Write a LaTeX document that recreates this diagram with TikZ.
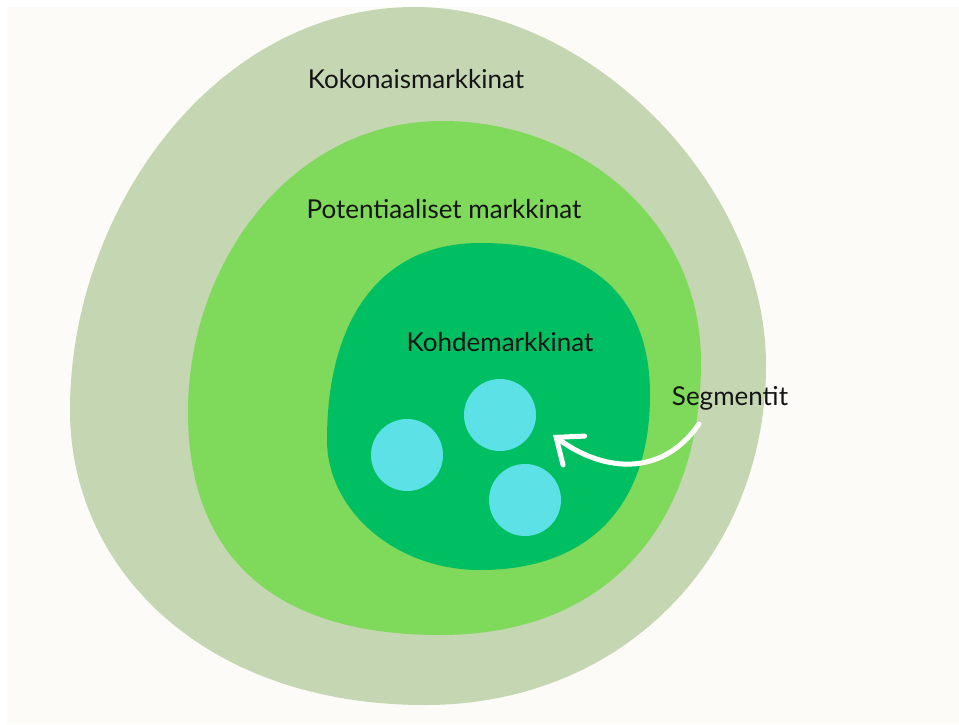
\documentclass[tikz,border=0pt]{standalone}
\usepackage{fontspec}
\setmainfont{Lato}
\usetikzlibrary{arrows.meta}
\definecolor{paper}{HTML}{FCFBF8}
\definecolor{sage}{HTML}{C5D6B3}
\definecolor{leaf}{HTML}{7FD95A}
\definecolor{deepgreen}{HTML}{00BF63}
\definecolor{aqua}{HTML}{5CE1E6}
\tikzstyle{market} = [draw=none]
\tikzstyle{marketname} = [font=\fontsize{26}{30}\selectfont, text=black!92, inner sep=0pt, anchor=base]
\tikzstyle{segment} = [circle, fill=aqua, minimum size=72pt, inner sep=0pt]
\tikzstyle{arrow} = [white, line width=5pt, line cap=round, -{Straight Barb[length=22pt,width=36pt,line cap=round]}]

\begin{document}
\begin{tikzpicture}[x=1pt,y=-1pt]
	\useasboundingbox (0,0) rectangle (959,724);
	\fill[white] (0,0) rectangle (959,724);
	\fill[paper] (7,7) rectangle (959,724);
	\fill[market, sage] (415,7) .. controls (590,7) and (766,185) .. (766,365)
		.. controls (766,555) and (625,705) .. (425,705)
		.. controls (205,705) and (70,570) .. (70,410)
		.. controls (70,210) and (215,7) .. cycle;
	\fill[market, leaf] (442,121) .. controls (582,121) and (701,222) .. (701,362)
		.. controls (701,522) and (610,635) .. (440,635)
		.. controls (280,635) and (188,562) .. (188,412)
		.. controls (188,262) and (292,121) .. cycle;
	\fill[market, deepgreen] (480,243) .. controls (590,243) and (650,295) .. (650,395)
		.. controls (650,505) and (590,570) .. (480,570)
		.. controls (395,570) and (327,510) .. (327,440)
		.. controls (327,320) and (380,243) .. cycle;
	\node (total) [marketname] at (416,88) {Kokonaismarkkinat};
	\node (potential) [marketname] at (444,218) {Potentiaaliset markkinat};
	\node (target) [marketname] at (500,351) {Kohdemarkkinat};
	\node (segments) [marketname] at (730,405) {Segmentit};
	\node (s1) [segment] at (407,455) {};
	\node (s2) [segment] at (500,415) {};
	\node (s3) [segment] at (525,500) {};
	\coordinate (tail) at (699,424);
	\coordinate (head) at (553,435);
	\draw [arrow] (tail) .. controls (660,480) and (600,470) .. (head);
\end{tikzpicture}
\end{document}
